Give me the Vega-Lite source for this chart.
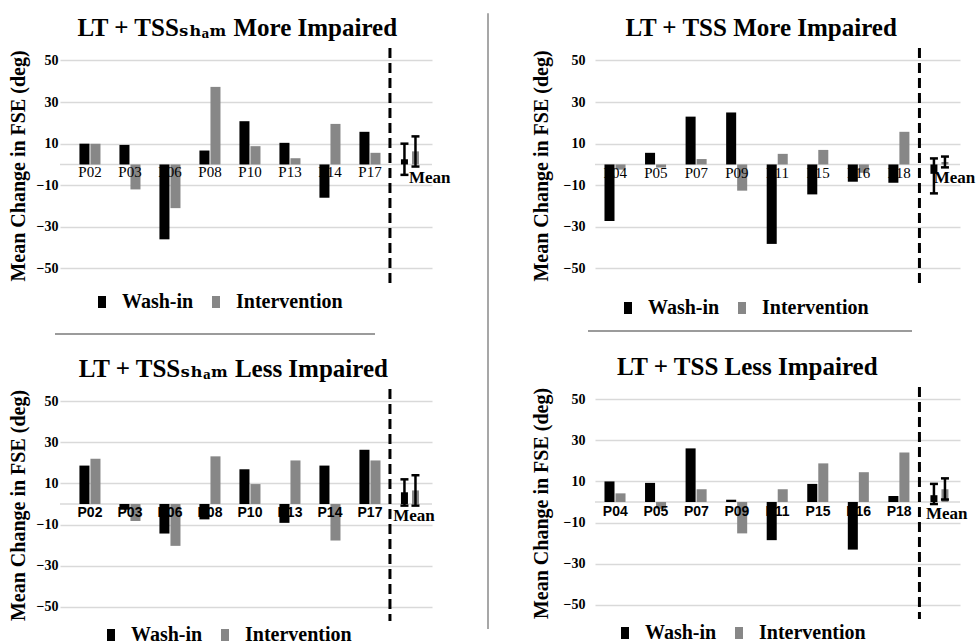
{
  "$schema": "https://vega.github.io/schema/vega-lite/v6.json",
  "background": "white",
  "padding": {"left": 8, "top": 12, "right": 0, "bottom": 0},
  "datasets": {
    "d": [
      {"p": "A", "g": "P02", "c": "Wash-in", "v": 10},
      {"p": "A", "g": "P02", "c": "Intervention", "v": 10},
      {"p": "A", "g": "P03", "c": "Wash-in", "v": 9.4},
      {"p": "A", "g": "P03", "c": "Intervention", "v": -12},
      {"p": "A", "g": "P06", "c": "Wash-in", "v": -36},
      {"p": "A", "g": "P06", "c": "Intervention", "v": -21},
      {"p": "A", "g": "P08", "c": "Wash-in", "v": 6.7},
      {"p": "A", "g": "P08", "c": "Intervention", "v": 37.3},
      {"p": "A", "g": "P10", "c": "Wash-in", "v": 20.8},
      {"p": "A", "g": "P10", "c": "Intervention", "v": 8.8},
      {"p": "A", "g": "P13", "c": "Wash-in", "v": 10.4},
      {"p": "A", "g": "P13", "c": "Intervention", "v": 3},
      {"p": "A", "g": "P14", "c": "Wash-in", "v": -16},
      {"p": "A", "g": "P14", "c": "Intervention", "v": 19.5},
      {"p": "A", "g": "P17", "c": "Wash-in", "v": 15.7},
      {"p": "A", "g": "P17", "c": "Intervention", "v": 5.6},
      {"p": "A", "g": "Mean", "c": "Wash-in", "v": 2.5, "lo": -5, "hi": 10},
      {"p": "A", "g": "Mean", "c": "Intervention", "v": 6.3, "lo": -1, "hi": 13.5},
      {"p": "B", "g": "P04", "c": "Wash-in", "v": -27.2},
      {"p": "B", "g": "P04", "c": "Intervention", "v": -2.5},
      {"p": "B", "g": "P05", "c": "Wash-in", "v": 5.6},
      {"p": "B", "g": "P05", "c": "Intervention", "v": -1.5},
      {"p": "B", "g": "P07", "c": "Wash-in", "v": 23},
      {"p": "B", "g": "P07", "c": "Intervention", "v": 2.6},
      {"p": "B", "g": "P09", "c": "Wash-in", "v": 25},
      {"p": "B", "g": "P09", "c": "Intervention", "v": -12.6},
      {"p": "B", "g": "P11", "c": "Wash-in", "v": -38.2},
      {"p": "B", "g": "P11", "c": "Intervention", "v": 5.1},
      {"p": "B", "g": "P15", "c": "Wash-in", "v": -14.4},
      {"p": "B", "g": "P15", "c": "Intervention", "v": 7},
      {"p": "B", "g": "P16", "c": "Wash-in", "v": -8.3},
      {"p": "B", "g": "P16", "c": "Intervention", "v": -4},
      {"p": "B", "g": "P18", "c": "Wash-in", "v": -8.8},
      {"p": "B", "g": "P18", "c": "Intervention", "v": 15.7},
      {"p": "B", "g": "Mean", "c": "Wash-in", "v": -4.5, "lo": -13.9, "hi": 2.9},
      {"p": "B", "g": "Mean", "c": "Intervention", "v": 1.2, "lo": -1.4, "hi": 3.8},
      {"p": "C", "g": "P02", "c": "Wash-in", "v": 18.7},
      {"p": "C", "g": "P02", "c": "Intervention", "v": 22},
      {"p": "C", "g": "P03", "c": "Wash-in", "v": -2.8},
      {"p": "C", "g": "P03", "c": "Intervention", "v": -8.3},
      {"p": "C", "g": "P06", "c": "Wash-in", "v": -14.4},
      {"p": "C", "g": "P06", "c": "Intervention", "v": -20.4},
      {"p": "C", "g": "P08", "c": "Wash-in", "v": -7.5},
      {"p": "C", "g": "P08", "c": "Intervention", "v": 23.2},
      {"p": "C", "g": "P10", "c": "Wash-in", "v": 16.9},
      {"p": "C", "g": "P10", "c": "Intervention", "v": 9.7},
      {"p": "C", "g": "P13", "c": "Wash-in", "v": -9.2},
      {"p": "C", "g": "P13", "c": "Intervention", "v": 21.2},
      {"p": "C", "g": "P14", "c": "Wash-in", "v": 18.7},
      {"p": "C", "g": "P14", "c": "Intervention", "v": -17.8},
      {"p": "C", "g": "P17", "c": "Wash-in", "v": 26.4},
      {"p": "C", "g": "P17", "c": "Intervention", "v": 21.2},
      {"p": "C", "g": "Mean", "c": "Wash-in", "v": 5.7, "lo": -0.8, "hi": 12},
      {"p": "C", "g": "Mean", "c": "Intervention", "v": 6.6, "lo": -0.8, "hi": 14},
      {"p": "D", "g": "P04", "c": "Wash-in", "v": 10},
      {"p": "D", "g": "P04", "c": "Intervention", "v": 4.2},
      {"p": "D", "g": "P05", "c": "Wash-in", "v": 9.3},
      {"p": "D", "g": "P05", "c": "Intervention", "v": -3.3},
      {"p": "D", "g": "P07", "c": "Wash-in", "v": 26.1},
      {"p": "D", "g": "P07", "c": "Intervention", "v": 6.2},
      {"p": "D", "g": "P09", "c": "Wash-in", "v": 1.1},
      {"p": "D", "g": "P09", "c": "Intervention", "v": -15.3},
      {"p": "D", "g": "P11", "c": "Wash-in", "v": -18.6},
      {"p": "D", "g": "P11", "c": "Intervention", "v": 6.2},
      {"p": "D", "g": "P15", "c": "Wash-in", "v": 8.8},
      {"p": "D", "g": "P15", "c": "Intervention", "v": 18.8},
      {"p": "D", "g": "P16", "c": "Wash-in", "v": -23.2},
      {"p": "D", "g": "P16", "c": "Intervention", "v": 14.5},
      {"p": "D", "g": "P18", "c": "Wash-in", "v": 2.9},
      {"p": "D", "g": "P18", "c": "Intervention", "v": 24.1},
      {"p": "D", "g": "Mean", "c": "Wash-in", "v": 3.3, "lo": -1, "hi": 8.8},
      {"p": "D", "g": "Mean", "c": "Intervention", "v": 6.2, "lo": 1.2, "hi": 11.5}
    ]
  },
  "config": {
    "view": {"stroke": null},
    "font": "Liberation Serif",
    "axisY": {
      "grid": true, "gridColor": "#d9d9d9", "gridWidth": 1.5,
      "domain": false, "ticks": false, "labelOverlap": false,
      "labelFont": "Liberation Serif", "labelFontWeight": "bold", "labelFontSize": 14, "labelColor": "#000",
      "titleFont": "Liberation Serif", "titleFontWeight": "bold", "titleFontSize": 20, "titleColor": "#000"
    },
    "legend": {
      "symbolType": "M-0.67,-1L0.67,-1L0.67,1L-0.67,1Z",
      "symbolSize": 144, "symbolStrokeWidth": 0, "symbolOpacity": 1,
      "labelFont": "Liberation Serif", "labelFontSize": 20, "labelFontWeight": "bold", "labelColor": "#000",
      "labelOffset": 10, "columnPadding": 12, "labelLimit": 300
    },
    "title": {"font": "Liberation Serif, DejaVu Serif", "fontSize": 25, "fontWeight": "bold", "color": "#000", "frame": "bounds", "anchor": "middle", "offset": 6},
    "concat": {"spacing": 20}
  },
  "spacing": 36,
  "resolve": {"scale": {"color": "independent"}, "legend": {"color": "independent"}},
  "hconcat": [
    {
      "spacing": 21,
      "resolve": {"scale": {"color": "independent"}, "legend": {"color": "independent"}},
      "vconcat": [
        {
          "width": 372, "height": 235,
          "title": {"text": "LT + TSSₛₕₐₘ  More Impaired", "dx": 8},
          "data": {"name": "d"},
          "transform": [{"filter": "datum.p == 'A'"}],
          "layer": [
            {"data": {"values": [{"zero": 0}]},
             "mark": {"type": "rule", "color": "#d9d9d9", "strokeWidth": 1.5},
             "encoding": {"y": {"field": "zero", "type": "quantitative", "scale": {"domain": [-57, 56], "nice": false, "zero": false}}}},
            {"transform": [{"filter": "datum.g != 'Mean'"}],
             "mark": "bar",
             "encoding": {
               "x": {"field": "g", "type": "nominal", "axis": null, "scale": {"domain": ["P02","P03","P06","P08","P10","P13","P14","P17","Mean"], "paddingInner": 0, "paddingOuter": 0.15, "align": 0.83}},
               "y": {"field": "v", "type": "quantitative", "scale": {"domain": [-57, 56], "nice": false, "zero": false}, "axis": {"title": "Mean Change in FSE (deg)", "values": [-50,-30,-10,10,30,50], "labelOverlap": false, "labelPadding": 2, "titlePadding": 8}},
               "xOffset": {"field": "c", "type": "nominal", "scale": {"domain": ["Wash-in","Intervention"], "paddingInner": 0.09, "paddingOuter": 0.86}},
               "color": {"field": "c", "type": "nominal", "scale": {"domain": ["Wash-in","Intervention"], "range": ["#000000","#878787"]}, "legend": {"orient": "none", "legendX": 32, "legendY": 244, "direction": "horizontal", "title": null, "labelFont": "Liberation Serif", "labelFontWeight": "bold", "labelFontSize": 20}}
             }},
            {"transform": [{"filter": "datum.g == 'Mean'"}],
             "mark": {"type": "bar", "width": 7},
             "encoding": {
               "x": {"field": "g", "type": "nominal", "axis": null, "scale": {"domain": ["P02","P03","P06","P08","P10","P13","P14","P17","Mean"], "paddingInner": 0, "paddingOuter": 0.15, "align": 0.83}},
               "y": {"field": "v", "type": "quantitative", "scale": {"domain": [-57, 56], "nice": false, "zero": false}},
               "xOffset": {"field": "c", "type": "nominal", "scale": {"domain": ["Wash-in","Intervention"], "paddingInner": 0.09, "paddingOuter": 0.86}},
               "color": {"field": "c", "type": "nominal", "scale": {"domain": ["Wash-in","Intervention"], "range": ["#000000","#878787"]}, "legend": {"orient": "none", "legendX": 32, "legendY": 244, "direction": "horizontal", "title": null, "labelFont": "Liberation Serif", "labelFontWeight": "bold", "labelFontSize": 20}}
             }},
            {"transform": [{"filter": "datum.g == 'Mean'"}],
             "mark": {"type": "rule", "color": "#000", "strokeWidth": 2.5},
             "encoding": {
               "x": {"field": "g", "type": "nominal", "axis": null, "scale": {"domain": ["P02","P03","P06","P08","P10","P13","P14","P17","Mean"], "paddingInner": 0, "paddingOuter": 0.15, "align": 0.83}},
               "y": {"field": "lo", "type": "quantitative", "scale": {"domain": [-57, 56], "nice": false, "zero": false}}, "y2": {"field": "hi"},
               "xOffset": {"field": "c", "type": "nominal", "scale": {"domain": ["Wash-in","Intervention"], "paddingInner": 0.09, "paddingOuter": 0.86}}
             }},
            {"transform": [{"filter": "datum.g == 'Mean'"}],
             "mark": {"type": "tick", "color": "#000", "size": 8, "thickness": 2.5, "opacity": 1},
             "encoding": {
               "x": {"field": "g", "type": "nominal", "axis": null, "scale": {"domain": ["P02","P03","P06","P08","P10","P13","P14","P17","Mean"], "paddingInner": 0, "paddingOuter": 0.15, "align": 0.83}},
               "y": {"field": "lo", "type": "quantitative", "scale": {"domain": [-57, 56], "nice": false, "zero": false}},
               "xOffset": {"field": "c", "type": "nominal", "scale": {"domain": ["Wash-in","Intervention"], "paddingInner": 0.09, "paddingOuter": 0.86}}
             }},
            {"transform": [{"filter": "datum.g == 'Mean'"}],
             "mark": {"type": "tick", "color": "#000", "size": 8, "thickness": 2.5, "opacity": 1},
             "encoding": {
               "x": {"field": "g", "type": "nominal", "axis": null, "scale": {"domain": ["P02","P03","P06","P08","P10","P13","P14","P17","Mean"], "paddingInner": 0, "paddingOuter": 0.15, "align": 0.83}},
               "y": {"field": "hi", "type": "quantitative", "scale": {"domain": [-57, 56], "nice": false, "zero": false}},
               "xOffset": {"field": "c", "type": "nominal", "scale": {"domain": ["Wash-in","Intervention"], "paddingInner": 0.09, "paddingOuter": 0.86}}
             }},
            {"transform": [{"filter": "datum.g == 'Mean' && datum.c == 'Wash-in'"}],
             "mark": {"type": "rule", "color": "#000", "strokeWidth": 3, "strokeDash": [10, 5]},
             "encoding": {"x": {"field": "g", "type": "nominal", "bandPosition": 0, "axis": null, "scale": {"domain": ["P02","P03","P06","P08","P10","P13","P14","P17","Mean"], "paddingInner": 0, "paddingOuter": 0.15, "align": 0.83}}}},
            {"transform": [{"filter": "datum.c == 'Wash-in' && datum.g != 'Mean'"}],
             "mark": {"type": "text", "baseline": "top", "dy": 1, "font": "Liberation Serif", "fontSize": 15, "color": "#000"},
             "encoding": {
               "x": {"field": "g", "type": "nominal", "axis": null, "scale": {"domain": ["P02","P03","P06","P08","P10","P13","P14","P17","Mean"], "paddingInner": 0, "paddingOuter": 0.15, "align": 0.83}},
               "y": {"datum": 0, "type": "quantitative", "scale": {"domain": [-57, 56], "nice": false, "zero": false}}, "text": {"field": "g"}}},
            {"transform": [{"filter": "datum.c == 'Wash-in' && datum.g == 'Mean'"}],
             "mark": {"type": "text", "baseline": "top", "align": "left", "dx": -1, "dy": 6, "font": "Liberation Serif", "fontSize": 17, "fontWeight": "bold", "color": "#000"},
             "encoding": {
               "x": {"field": "g", "type": "nominal", "axis": null, "scale": {"domain": ["P02","P03","P06","P08","P10","P13","P14","P17","Mean"], "paddingInner": 0, "paddingOuter": 0.15, "align": 0.83}},
               "y": {"datum": 0, "type": "quantitative", "scale": {"domain": [-57, 56], "nice": false, "zero": false}}, "text": {"field": "g"}}}
          ]
        },
        {
          "width": 315, "height": 1,
          "data": {"values": [{"a": -5, "b": 315, "z": 1}]},
          "mark": {"type": "rule", "color": "#7a7a7a", "strokeWidth": 1.5, "clip": false},
          "encoding": {
            "x": {"field": "a", "type": "quantitative", "axis": null, "scale": {"domain": [0, 315]}},
            "x2": {"field": "b"},
            "y": {"field": "z", "type": "quantitative", "axis": null, "scale": {"domain": [0, 1]}}
          }
        },
        {
          "width": 372, "height": 232,
          "title": {"text": "LT + TSSₛₕₐₘ  Less Impaired", "dx": 12},
          "data": {"name": "d"},
          "transform": [{"filter": "datum.p == 'C'"}],
          "layer": [
            {"data": {"values": [{"zero": 0}]},
             "mark": {"type": "rule", "color": "#d9d9d9", "strokeWidth": 1.5},
             "encoding": {"y": {"field": "zero", "type": "quantitative", "scale": {"domain": [-57, 56], "nice": false, "zero": false}}}},
            {"transform": [{"filter": "datum.g != 'Mean'"}],
             "mark": "bar",
             "encoding": {
               "x": {"field": "g", "type": "nominal", "axis": null, "scale": {"domain": ["P02","P03","P06","P08","P10","P13","P14","P17","Mean"], "paddingInner": 0, "paddingOuter": 0.15, "align": 0.83}},
               "y": {"field": "v", "type": "quantitative", "scale": {"domain": [-57, 56], "nice": false, "zero": false}, "axis": {"title": "Mean Change in FSE (deg)", "values": [-50,-30,-10,10,30,50], "labelOverlap": false, "labelPadding": 2, "titlePadding": 8}},
               "xOffset": {"field": "c", "type": "nominal", "scale": {"domain": ["Wash-in","Intervention"], "paddingInner": 0.09, "paddingOuter": 0.86}},
               "color": {"field": "c", "type": "nominal", "scale": {"domain": ["Wash-in","Intervention"], "range": ["#000000","#878787"]}, "legend": {"orient": "none", "legendX": 41, "legendY": 236, "direction": "horizontal", "title": null, "labelFont": "Liberation Serif", "labelFontWeight": "bold", "labelFontSize": 20}}
             }},
            {"transform": [{"filter": "datum.g == 'Mean'"}],
             "mark": {"type": "bar", "width": 7},
             "encoding": {
               "x": {"field": "g", "type": "nominal", "axis": null, "scale": {"domain": ["P02","P03","P06","P08","P10","P13","P14","P17","Mean"], "paddingInner": 0, "paddingOuter": 0.15, "align": 0.83}},
               "y": {"field": "v", "type": "quantitative", "scale": {"domain": [-57, 56], "nice": false, "zero": false}},
               "xOffset": {"field": "c", "type": "nominal", "scale": {"domain": ["Wash-in","Intervention"], "paddingInner": 0.09, "paddingOuter": 0.86}},
               "color": {"field": "c", "type": "nominal", "scale": {"domain": ["Wash-in","Intervention"], "range": ["#000000","#878787"]}, "legend": {"orient": "none", "legendX": 41, "legendY": 236, "direction": "horizontal", "title": null, "labelFont": "Liberation Serif", "labelFontWeight": "bold", "labelFontSize": 20}}
             }},
            {"transform": [{"filter": "datum.g == 'Mean'"}],
             "mark": {"type": "rule", "color": "#000", "strokeWidth": 2.5},
             "encoding": {
               "x": {"field": "g", "type": "nominal", "axis": null, "scale": {"domain": ["P02","P03","P06","P08","P10","P13","P14","P17","Mean"], "paddingInner": 0, "paddingOuter": 0.15, "align": 0.83}},
               "y": {"field": "lo", "type": "quantitative", "scale": {"domain": [-57, 56], "nice": false, "zero": false}}, "y2": {"field": "hi"},
               "xOffset": {"field": "c", "type": "nominal", "scale": {"domain": ["Wash-in","Intervention"], "paddingInner": 0.09, "paddingOuter": 0.86}}
             }},
            {"transform": [{"filter": "datum.g == 'Mean'"}],
             "mark": {"type": "tick", "color": "#000", "size": 8, "thickness": 2.5, "opacity": 1},
             "encoding": {
               "x": {"field": "g", "type": "nominal", "axis": null, "scale": {"domain": ["P02","P03","P06","P08","P10","P13","P14","P17","Mean"], "paddingInner": 0, "paddingOuter": 0.15, "align": 0.83}},
               "y": {"field": "lo", "type": "quantitative", "scale": {"domain": [-57, 56], "nice": false, "zero": false}},
               "xOffset": {"field": "c", "type": "nominal", "scale": {"domain": ["Wash-in","Intervention"], "paddingInner": 0.09, "paddingOuter": 0.86}}
             }},
            {"transform": [{"filter": "datum.g == 'Mean'"}],
             "mark": {"type": "tick", "color": "#000", "size": 8, "thickness": 2.5, "opacity": 1},
             "encoding": {
               "x": {"field": "g", "type": "nominal", "axis": null, "scale": {"domain": ["P02","P03","P06","P08","P10","P13","P14","P17","Mean"], "paddingInner": 0, "paddingOuter": 0.15, "align": 0.83}},
               "y": {"field": "hi", "type": "quantitative", "scale": {"domain": [-57, 56], "nice": false, "zero": false}},
               "xOffset": {"field": "c", "type": "nominal", "scale": {"domain": ["Wash-in","Intervention"], "paddingInner": 0.09, "paddingOuter": 0.86}}
             }},
            {"transform": [{"filter": "datum.g == 'Mean' && datum.c == 'Wash-in'"}],
             "mark": {"type": "rule", "color": "#000", "strokeWidth": 3, "strokeDash": [10, 5]},
             "encoding": {"x": {"field": "g", "type": "nominal", "bandPosition": 0, "axis": null, "scale": {"domain": ["P02","P03","P06","P08","P10","P13","P14","P17","Mean"], "paddingInner": 0, "paddingOuter": 0.15, "align": 0.83}}}},
            {"transform": [{"filter": "datum.c == 'Wash-in' && datum.g != 'Mean'"}],
             "mark": {"type": "text", "baseline": "top", "dy": 2, "font": "Liberation Sans Narrow, Liberation Sans", "fontSize": 14, "fontWeight": "bold", "color": "#000"},
             "encoding": {
               "x": {"field": "g", "type": "nominal", "axis": null, "scale": {"domain": ["P02","P03","P06","P08","P10","P13","P14","P17","Mean"], "paddingInner": 0, "paddingOuter": 0.15, "align": 0.83}},
               "y": {"datum": 0, "type": "quantitative", "scale": {"domain": [-57, 56], "nice": false, "zero": false}}, "text": {"field": "g"}}},
            {"transform": [{"filter": "datum.c == 'Wash-in' && datum.g == 'Mean'"}],
             "mark": {"type": "text", "baseline": "top", "align": "center", "dx": 4, "dy": 4, "font": "Liberation Serif", "fontSize": 17, "fontWeight": "bold", "color": "#000"},
             "encoding": {
               "x": {"field": "g", "type": "nominal", "axis": null, "scale": {"domain": ["P02","P03","P06","P08","P10","P13","P14","P17","Mean"], "paddingInner": 0, "paddingOuter": 0.15, "align": 0.83}},
               "y": {"datum": 0, "type": "quantitative", "scale": {"domain": [-57, 56], "nice": false, "zero": false}}, "text": {"field": "g"}}}
          ]
        }
      ]
    },
    {
      "width": 7, "height": 581,
      "data": {"values": [{"z": 0, "z2": 1.06}]},
      "mark": {"type": "rule", "color": "#8a8a8a", "strokeWidth": 1.5, "clip": false},
      "encoding": {
        "x": {"datum": 0, "type": "quantitative", "axis": null, "scale": {"domain": [0, 1]}},
        "y": {"field": "z", "type": "quantitative", "axis": null, "scale": {"domain": [0, 1]}},
        "y2": {"field": "z2"}
      }
    },
    {
      "spacing": 12,
      "resolve": {"scale": {"color": "independent"}, "legend": {"color": "independent"}},
      "vconcat": [
        {
          "width": 365, "height": 235,
          "title": {"text": "LT + TSS More Impaired", "dx": 8},
          "data": {"name": "d"},
          "transform": [{"filter": "datum.p == 'B'"}],
          "layer": [
            {"data": {"values": [{"zero": 0}]},
             "mark": {"type": "rule", "color": "#d9d9d9", "strokeWidth": 1.5},
             "encoding": {"y": {"field": "zero", "type": "quantitative", "scale": {"domain": [-57, 56], "nice": false, "zero": false}}}},
            {"transform": [{"filter": "datum.g != 'Mean'"}],
             "mark": "bar",
             "encoding": {
               "x": {"field": "g", "type": "nominal", "axis": null, "scale": {"domain": ["P04","P05","P07","P09","P11","P15","P16","P18","Mean"], "paddingInner": 0, "paddingOuter": 0}},
               "y": {"field": "v", "type": "quantitative", "scale": {"domain": [-57, 56], "nice": false, "zero": false}, "axis": {"title": "Mean Change in FSE (deg)", "values": [-50,-30,-10,10,30,50], "labelOverlap": false, "labelPadding": 10, "titlePadding": 12}},
               "xOffset": {"field": "c", "type": "nominal", "scale": {"domain": ["Wash-in","Intervention"], "paddingInner": 0.09, "paddingOuter": 0.86}},
               "color": {"field": "c", "type": "nominal", "scale": {"domain": ["Wash-in","Intervention"], "range": ["#000000","#878787"]}, "legend": {"orient": "none", "legendX": 23, "legendY": 250, "direction": "horizontal", "title": null, "labelFont": "Liberation Serif", "labelFontWeight": "bold", "labelFontSize": 20}}
             }},
            {"transform": [{"filter": "datum.g == 'Mean'"}],
             "mark": {"type": "bar", "width": 7},
             "encoding": {
               "x": {"field": "g", "type": "nominal", "axis": null, "scale": {"domain": ["P04","P05","P07","P09","P11","P15","P16","P18","Mean"], "paddingInner": 0, "paddingOuter": 0}},
               "y": {"field": "v", "type": "quantitative", "scale": {"domain": [-57, 56], "nice": false, "zero": false}},
               "xOffset": {"field": "c", "type": "nominal", "scale": {"domain": ["Wash-in","Intervention"], "paddingInner": 0.09, "paddingOuter": 0.86}},
               "color": {"field": "c", "type": "nominal", "scale": {"domain": ["Wash-in","Intervention"], "range": ["#000000","#878787"]}, "legend": {"orient": "none", "legendX": 23, "legendY": 250, "direction": "horizontal", "title": null, "labelFont": "Liberation Serif", "labelFontWeight": "bold", "labelFontSize": 20}}
             }},
            {"transform": [{"filter": "datum.g == 'Mean'"}],
             "mark": {"type": "rule", "color": "#000", "strokeWidth": 2.5},
             "encoding": {
               "x": {"field": "g", "type": "nominal", "axis": null, "scale": {"domain": ["P04","P05","P07","P09","P11","P15","P16","P18","Mean"], "paddingInner": 0, "paddingOuter": 0}},
               "y": {"field": "lo", "type": "quantitative", "scale": {"domain": [-57, 56], "nice": false, "zero": false}}, "y2": {"field": "hi"},
               "xOffset": {"field": "c", "type": "nominal", "scale": {"domain": ["Wash-in","Intervention"], "paddingInner": 0.09, "paddingOuter": 0.86}}
             }},
            {"transform": [{"filter": "datum.g == 'Mean'"}],
             "mark": {"type": "tick", "color": "#000", "size": 8, "thickness": 2.5, "opacity": 1},
             "encoding": {
               "x": {"field": "g", "type": "nominal", "axis": null, "scale": {"domain": ["P04","P05","P07","P09","P11","P15","P16","P18","Mean"], "paddingInner": 0, "paddingOuter": 0}},
               "y": {"field": "lo", "type": "quantitative", "scale": {"domain": [-57, 56], "nice": false, "zero": false}},
               "xOffset": {"field": "c", "type": "nominal", "scale": {"domain": ["Wash-in","Intervention"], "paddingInner": 0.09, "paddingOuter": 0.86}}
             }},
            {"transform": [{"filter": "datum.g == 'Mean'"}],
             "mark": {"type": "tick", "color": "#000", "size": 8, "thickness": 2.5, "opacity": 1},
             "encoding": {
               "x": {"field": "g", "type": "nominal", "axis": null, "scale": {"domain": ["P04","P05","P07","P09","P11","P15","P16","P18","Mean"], "paddingInner": 0, "paddingOuter": 0}},
               "y": {"field": "hi", "type": "quantitative", "scale": {"domain": [-57, 56], "nice": false, "zero": false}},
               "xOffset": {"field": "c", "type": "nominal", "scale": {"domain": ["Wash-in","Intervention"], "paddingInner": 0.09, "paddingOuter": 0.86}}
             }},
            {"transform": [{"filter": "datum.g == 'Mean' && datum.c == 'Wash-in'"}],
             "mark": {"type": "rule", "color": "#000", "strokeWidth": 3, "strokeDash": [10, 5]},
             "encoding": {"x": {"field": "g", "type": "nominal", "bandPosition": 0, "axis": null, "scale": {"domain": ["P04","P05","P07","P09","P11","P15","P16","P18","Mean"], "paddingInner": 0, "paddingOuter": 0}}}},
            {"transform": [{"filter": "datum.c == 'Wash-in' && datum.g != 'Mean'"}],
             "mark": {"type": "text", "baseline": "top", "dy": 2, "font": "Liberation Serif", "fontSize": 15, "color": "#000"},
             "encoding": {
               "x": {"field": "g", "type": "nominal", "axis": null, "scale": {"domain": ["P04","P05","P07","P09","P11","P15","P16","P18","Mean"], "paddingInner": 0, "paddingOuter": 0}},
               "y": {"datum": 0, "type": "quantitative", "scale": {"domain": [-57, 56], "nice": false, "zero": false}}, "text": {"field": "g"}}},
            {"transform": [{"filter": "datum.c == 'Wash-in' && datum.g == 'Mean'"}],
             "mark": {"type": "text", "baseline": "top", "align": "left", "dx": -6, "dy": 6, "font": "Liberation Serif", "fontSize": 17, "fontWeight": "bold", "color": "#000"},
             "encoding": {
               "x": {"field": "g", "type": "nominal", "axis": null, "scale": {"domain": ["P04","P05","P07","P09","P11","P15","P16","P18","Mean"], "paddingInner": 0, "paddingOuter": 0}},
               "y": {"datum": 0, "type": "quantitative", "scale": {"domain": [-57, 56], "nice": false, "zero": false}}, "text": {"field": "g"}}}
          ]
        },
        {
          "width": 317, "height": 11,
          "data": {"values": [{"a": -7, "b": 317, "z": 1}]},
          "mark": {"type": "rule", "color": "#7a7a7a", "strokeWidth": 1.5, "clip": false},
          "encoding": {
            "x": {"field": "a", "type": "quantitative", "axis": null, "scale": {"domain": [0, 317]}},
            "x2": {"field": "b"},
            "y": {"field": "z", "type": "quantitative", "axis": null, "scale": {"domain": [0, 1]}}
          }
        },
        {
          "width": 365, "height": 232,
          "title": {"text": "LT + TSS Less Impaired", "dx": -2},
          "data": {"name": "d"},
          "transform": [{"filter": "datum.p == 'D'"}],
          "layer": [
            {"data": {"values": [{"zero": 0}]},
             "mark": {"type": "rule", "color": "#d9d9d9", "strokeWidth": 1.5},
             "encoding": {"y": {"field": "zero", "type": "quantitative", "scale": {"domain": [-57, 56], "nice": false, "zero": false}}}},
            {"transform": [{"filter": "datum.g != 'Mean'"}],
             "mark": "bar",
             "encoding": {
               "x": {"field": "g", "type": "nominal", "axis": null, "scale": {"domain": ["P04","P05","P07","P09","P11","P15","P16","P18","Mean"], "paddingInner": 0, "paddingOuter": 0}},
               "y": {"field": "v", "type": "quantitative", "scale": {"domain": [-57, 56], "nice": false, "zero": false}, "axis": {"title": "Mean Change in FSE (deg)", "values": [-50,-30,-10,10,30,50], "labelOverlap": false, "labelPadding": 10, "titlePadding": 12}},
               "xOffset": {"field": "c", "type": "nominal", "scale": {"domain": ["Wash-in","Intervention"], "paddingInner": 0.09, "paddingOuter": 0.86}},
               "color": {"field": "c", "type": "nominal", "scale": {"domain": ["Wash-in","Intervention"], "range": ["#000000","#878787"]}, "legend": {"orient": "none", "legendX": 20, "legendY": 236, "direction": "horizontal", "title": null, "labelFont": "Liberation Serif", "labelFontWeight": "bold", "labelFontSize": 20}}
             }},
            {"transform": [{"filter": "datum.g == 'Mean'"}],
             "mark": {"type": "bar", "width": 7},
             "encoding": {
               "x": {"field": "g", "type": "nominal", "axis": null, "scale": {"domain": ["P04","P05","P07","P09","P11","P15","P16","P18","Mean"], "paddingInner": 0, "paddingOuter": 0}},
               "y": {"field": "v", "type": "quantitative", "scale": {"domain": [-57, 56], "nice": false, "zero": false}},
               "xOffset": {"field": "c", "type": "nominal", "scale": {"domain": ["Wash-in","Intervention"], "paddingInner": 0.09, "paddingOuter": 0.86}},
               "color": {"field": "c", "type": "nominal", "scale": {"domain": ["Wash-in","Intervention"], "range": ["#000000","#878787"]}, "legend": {"orient": "none", "legendX": 20, "legendY": 236, "direction": "horizontal", "title": null, "labelFont": "Liberation Serif", "labelFontWeight": "bold", "labelFontSize": 20}}
             }},
            {"transform": [{"filter": "datum.g == 'Mean'"}],
             "mark": {"type": "rule", "color": "#000", "strokeWidth": 2.5},
             "encoding": {
               "x": {"field": "g", "type": "nominal", "axis": null, "scale": {"domain": ["P04","P05","P07","P09","P11","P15","P16","P18","Mean"], "paddingInner": 0, "paddingOuter": 0}},
               "y": {"field": "lo", "type": "quantitative", "scale": {"domain": [-57, 56], "nice": false, "zero": false}}, "y2": {"field": "hi"},
               "xOffset": {"field": "c", "type": "nominal", "scale": {"domain": ["Wash-in","Intervention"], "paddingInner": 0.09, "paddingOuter": 0.86}}
             }},
            {"transform": [{"filter": "datum.g == 'Mean'"}],
             "mark": {"type": "tick", "color": "#000", "size": 8, "thickness": 2.5, "opacity": 1},
             "encoding": {
               "x": {"field": "g", "type": "nominal", "axis": null, "scale": {"domain": ["P04","P05","P07","P09","P11","P15","P16","P18","Mean"], "paddingInner": 0, "paddingOuter": 0}},
               "y": {"field": "lo", "type": "quantitative", "scale": {"domain": [-57, 56], "nice": false, "zero": false}},
               "xOffset": {"field": "c", "type": "nominal", "scale": {"domain": ["Wash-in","Intervention"], "paddingInner": 0.09, "paddingOuter": 0.86}}
             }},
            {"transform": [{"filter": "datum.g == 'Mean'"}],
             "mark": {"type": "tick", "color": "#000", "size": 8, "thickness": 2.5, "opacity": 1},
             "encoding": {
               "x": {"field": "g", "type": "nominal", "axis": null, "scale": {"domain": ["P04","P05","P07","P09","P11","P15","P16","P18","Mean"], "paddingInner": 0, "paddingOuter": 0}},
               "y": {"field": "hi", "type": "quantitative", "scale": {"domain": [-57, 56], "nice": false, "zero": false}},
               "xOffset": {"field": "c", "type": "nominal", "scale": {"domain": ["Wash-in","Intervention"], "paddingInner": 0.09, "paddingOuter": 0.86}}
             }},
            {"transform": [{"filter": "datum.g == 'Mean' && datum.c == 'Wash-in'"}],
             "mark": {"type": "rule", "color": "#000", "strokeWidth": 3, "strokeDash": [10, 5]},
             "encoding": {"x": {"field": "g", "type": "nominal", "bandPosition": 0, "axis": null, "scale": {"domain": ["P04","P05","P07","P09","P11","P15","P16","P18","Mean"], "paddingInner": 0, "paddingOuter": 0}}}},
            {"transform": [{"filter": "datum.c == 'Wash-in' && datum.g != 'Mean'"}],
             "mark": {"type": "text", "baseline": "top", "dy": 3, "font": "Liberation Sans Narrow, Liberation Sans", "fontSize": 14, "fontWeight": "bold", "color": "#000"},
             "encoding": {
               "x": {"field": "g", "type": "nominal", "axis": null, "scale": {"domain": ["P04","P05","P07","P09","P11","P15","P16","P18","Mean"], "paddingInner": 0, "paddingOuter": 0}},
               "y": {"datum": 0, "type": "quantitative", "scale": {"domain": [-57, 56], "nice": false, "zero": false}}, "text": {"field": "g"}}},
            {"transform": [{"filter": "datum.c == 'Wash-in' && datum.g == 'Mean'"}],
             "mark": {"type": "text", "baseline": "top", "align": "center", "dx": 7, "dy": 4, "font": "Liberation Serif", "fontSize": 17, "fontWeight": "bold", "color": "#000"},
             "encoding": {
               "x": {"field": "g", "type": "nominal", "axis": null, "scale": {"domain": ["P04","P05","P07","P09","P11","P15","P16","P18","Mean"], "paddingInner": 0, "paddingOuter": 0}},
               "y": {"datum": 0, "type": "quantitative", "scale": {"domain": [-57, 56], "nice": false, "zero": false}}, "text": {"field": "g"}}}
          ]
        }
      ]
    }
  ]
}
